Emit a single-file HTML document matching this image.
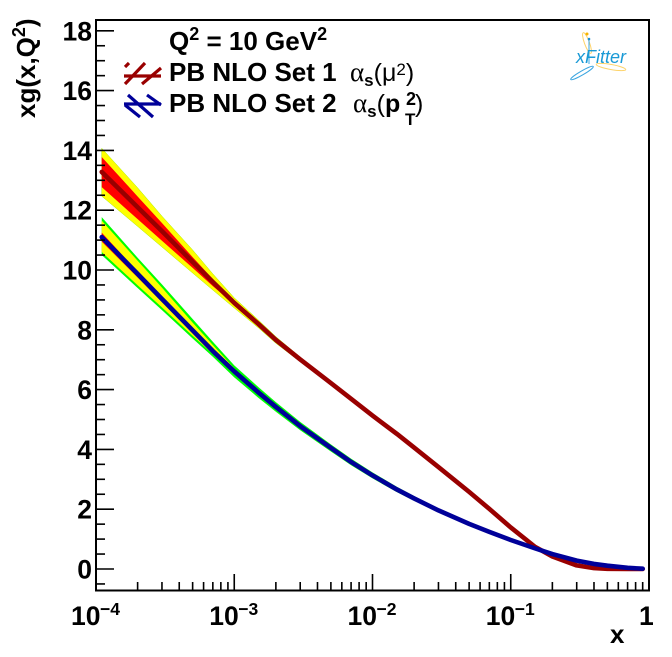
<!DOCTYPE html>
<html>
<head>
<meta charset="utf-8">
<style>
html,body{margin:0;padding:0;background:#fff;}
svg{display:block;font-family:"Liberation Sans",sans-serif;font-weight:bold;fill:#000;}
</style>
</head>
<body>
<svg id="chart" width="672" height="657" viewBox="0 0 672 657" xmlns="http://www.w3.org/2000/svg">
<rect width="672" height="657" fill="#fff"/>
<g id="bands"></g>
<g id="lines"></g>
<g id="axes"></g>
<text transform="translate(35,118) rotate(-90)" font-size="26">xg(x,Q<tspan font-size="18" dy="-10">2</tspan><tspan dy="10">)</tspan></text>
<text x="610" y="643" font-size="26">x</text>
<g>
<text x="169" y="50" font-size="26">Q<tspan font-size="18" dy="-10">2</tspan><tspan dy="10"> = 10 GeV</tspan><tspan font-size="18" dy="-10">2</tspan></text>
<g stroke="#990000" stroke-width="3.2" fill="none">
<line x1="124" y1="76" x2="161" y2="76"/><line x1="125" y1="84" x2="145" y2="63"/><line x1="142" y1="84" x2="161" y2="68"/><line x1="125" y1="67" x2="129" y2="63"/>
</g>
<text x="169" y="81" font-size="26">PB NLO Set 1</text>
<text x="350" y="81" font-size="25"><tspan font-family="Liberation Serif" font-weight="normal" font-size="27">α</tspan><tspan font-size="17" dy="5">s</tspan><tspan dy="-5" font-weight="normal">(μ</tspan><tspan font-size="17" font-weight="normal" dy="-6">2</tspan><tspan dy="6" font-weight="normal">)</tspan></text>
<g stroke="#000099" stroke-width="3.2" fill="none">
<line x1="124" y1="104" x2="161" y2="104"/><line x1="125" y1="105" x2="140" y2="117"/><line x1="128" y1="95" x2="153" y2="117"/><line x1="147" y1="95" x2="161" y2="105"/>
</g>
<text x="169" y="112" font-size="26">PB NLO Set 2</text>
<text x="353" y="112" font-size="25"><tspan font-family="Liberation Serif" font-weight="normal" font-size="27">α</tspan><tspan font-size="17" dy="5">s</tspan><tspan dy="-5" font-weight="normal">(</tspan><tspan>p</tspan></text>
<text x="406" y="105" font-size="18">2</text>
<text x="405" y="125" font-size="17">T</text>
<text x="415" y="112" font-size="25" font-weight="normal">)</text>
</g>
<g>
<ellipse cx="587" cy="43" rx="2.5" ry="11" transform="rotate(-20 587 43)" fill="none" stroke="#fdd36a" stroke-width="1"/>
<ellipse cx="611" cy="67" rx="15" ry="2.5" transform="rotate(10 611 67)" fill="none" stroke="#fdd36a" stroke-width="1"/>
<ellipse cx="582" cy="73" rx="13" ry="2" transform="rotate(-30 582 73)" fill="none" stroke="#3aa5e0" stroke-width="1"/>
<line x1="589" y1="38" x2="589" y2="64" stroke="#3aa5e0" stroke-width="1"/>
<circle cx="587" cy="34" r="1.5" fill="#f7b500"/>
<circle cx="589" cy="39" r="1.3" fill="#1a8fd6"/>
<text x="576" y="63" font-size="18" font-style="italic" font-weight="normal" fill="#1a9ad6">xFitter</text>
</g>
<rect id="frame" x="96" y="20" width="553" height="570.5" fill="none" stroke="#000" stroke-width="2"/>
</svg>
<script>
const xValues = [1.1e-4, 2e-4, 3e-4, 5e-4, 7e-4, 1e-3, 1.5e-3, 2e-3, 3e-3, 5e-3, 7e-3, 1e-2, 1.5e-2, 2e-2, 3e-2, 5e-2, 7e-2, 0.1, 0.15, 0.2, 0.3, 0.4, 0.5, 0.7, 0.9];
const set1Central = [13.28, 12.1, 11.3, 10.27, 9.6, 8.9, 8.19, 7.66, 7.01, 6.22, 5.69, 5.13, 4.52, 4.06, 3.41, 2.58, 2.01, 1.39, 0.74, 0.42, 0.12, 0.03, 0.007, 0, 0];
const set1TotalErrUp = [0.79, 0.65, 0.5, 0.4, 0.27, 0.17, 0.13, 0.11, 0.08, 0.04, 0.02, 0.01, 0.01, 0.01, 0.01, 0.01, 0.01, 0.01, 0, 0, 0, 0, 0, 0, 0];
const set1TotalErrDown = [0.81, 0.64, 0.53, 0.37, 0.27, 0.17, 0.13, 0.11, 0.08, 0.04, 0.02, 0.01, 0.01, 0.01, 0.01, 0.01, 0.01, 0.01, 0, 0, 0, 0, 0, 0, 0];
const set1InnerErrUp = [0.5, 0.36, 0.27, 0.16, 0.1, 0.05, 0.03, 0.02, 0.01, 0.01, 0, 0, 0, 0, 0, 0, 0, 0, 0, 0, 0, 0, 0, 0, 0];
const set1InnerErrDown = [0.51, 0.4, 0.32, 0.2, 0.14, 0.05, 0.03, 0.02, 0.01, 0.01, 0, 0, 0, 0, 0, 0, 0, 0, 0, 0, 0, 0, 0, 0, 0];
const set2Central = [11.1, 9.87, 9.03, 7.98, 7.29, 6.61, 5.9, 5.42, 4.78, 4.05, 3.58, 3.13, 2.66, 2.36, 1.96, 1.51, 1.24, 0.97, 0.69, 0.5, 0.28, 0.17, 0.11, 0.04, 0.01];
const set2TotalErrUp = [0.67, 0.54, 0.49, 0.38, 0.31, 0.2, 0.18, 0.16, 0.14, 0.12, 0.11, 0.1, 0.09, 0.08, 0.02, 0, 0, 0, 0, 0, 0, 0, 0, 0, 0];
const set2TotalErrDown = [0.6, 0.47, 0.37, 0.27, 0.19, 0.2, 0.18, 0.16, 0.14, 0.12, 0.11, 0.1, 0.09, 0.08, 0.02, 0, 0, 0, 0, 0, 0, 0, 0, 0, 0];
const set2InnerErrUp = [0.55, 0.44, 0.38, 0.26, 0.2, 0.1, 0, 0, 0, 0, 0, 0, 0, 0, 0, 0, 0, 0, 0, 0, 0, 0, 0, 0, 0];
const set2InnerErrDown = [0.5, 0.38, 0.28, 0.18, 0.1, 0.08, 0, 0, 0, 0, 0, 0, 0, 0, 0, 0, 0, 0, 0, 0, 0, 0, 0, 0, 0];
const set2CoreErrUp = [0.15, 0.08, 0.05, 0.03, 0, 0, 0, 0, 0, 0, 0, 0, 0, 0, 0, 0, 0, 0, 0, 0, 0, 0, 0, 0, 0];
const set2CoreErrDown = [0.15, 0.12, 0.1, 0.08, 0.03, 0, 0, 0, 0, 0, 0, 0, 0, 0, 0, 0, 0, 0, 0, 0, 0, 0, 0, 0, 0];
const yTickValues = [0, 2, 4, 6, 8, 10, 12, 14, 16, 18];
const xDecadeExponents = [-4, -3, -2, -1];
const xDecadeLabels = ["\u22124", "\u22123", "\u22122", "\u22121"];

const NS = "http://www.w3.org/2000/svg";
const sx = function (v) { return 96 + (Math.log10(v) + 4) * 138.25; };
const sy = function (v) { return 569 - v * 29.9; };

function make(tag, parent, attrs) {
  const el = document.createElementNS(NS, tag);
  Object.keys(attrs).forEach(function (k) { el.setAttribute(k, attrs[k]); });
  parent.appendChild(el);
  return el;
}
function bandPath(central, errUp, errDown) {
  let d = "";
  xValues.forEach(function (x, i) { d += (i ? "L" : "M") + sx(x).toFixed(2) + " " + sy(central[i] + errUp[i]).toFixed(2); });
  for (let i = xValues.length - 1; i >= 0; i--) { d += "L" + sx(xValues[i]).toFixed(2) + " " + sy(central[i] - errDown[i]).toFixed(2); }
  return d + "Z";
}
function linePath(vals) {
  let d = "";
  xValues.forEach(function (x, i) { d += (i ? "L" : "M") + sx(x).toFixed(2) + " " + sy(vals[i]).toFixed(2); });
  return d;
}
const bands = document.getElementById("bands");
const lines = document.getElementById("lines");
const axes = document.getElementById("axes");

const b1 = make("path", bands, { d: bandPath(set1Central, set1TotalErrUp, set1TotalErrDown), fill: "#ffff00", stroke: "#a0f000", "stroke-width": "0.5" });


const b2 = make("path", bands, { d: bandPath(set1Central, set1InnerErrUp, set1InnerErrDown), fill: "#ff0000" });


const b3 = make("path", bands, { d: bandPath(set2Central, set2TotalErrUp, set2TotalErrDown), fill: "#00ff00" });


const b4 = make("path", bands, { d: bandPath(set2Central, set2InnerErrUp, set2InnerErrDown), fill: "#ffff00" });


const b5 = make("path", bands, { d: bandPath(set2Central, set2CoreErrUp, set2CoreErrDown), fill: "#ff0000" });


const l1 = make("path", lines, { d: linePath(set1Central), fill: "none", stroke: "#990000", "stroke-width": "4.6", "stroke-linejoin": "round", "stroke-linecap": "round" });


const l2 = make("path", lines, { d: linePath(set2Central), fill: "none", stroke: "#000099", "stroke-width": "4.6", "stroke-linejoin": "round", "stroke-linecap": "round" });



/* y axis */
for (let v = -0.5; v <= 18; v += 0.5) {
  const major = Number.isInteger(v / 2);
  const t = make("line", axes, { x1: 96, x2: major ? 114 : 105, y1: sy(v), y2: sy(v), stroke: "#000", "stroke-width": "1.6" });
  
  
}
yTickValues.forEach(function (v) {
  const t = make("text", axes, { x: 92, y: sy(v) + 9.5, "font-size": "26.5", "text-anchor": "end" });
  
  
  t.textContent = String(v);
});
/* x axis */
for (let e = -4; e < 0; e++) {
  for (let m = 1; m <= 9; m++) {
    if (e === -4 && m === 1) continue;
    const px = sx(m * Math.pow(10, e));
    const t = make("line", axes, { x1: px, x2: px, y1: 590, y2: m === 1 ? 574 : 582, stroke: "#000", "stroke-width": "1.6" });
    
    
  }
}
xDecadeExponents.forEach(function (e, i) {
  const px = sx(Math.pow(10, e));
  const t = make("text", axes, { x: px - 25, y: 625, "font-size": "26.5" });
  
  
  t.textContent = "10";
  const s = make("text", axes, { x: px + 4, y: 615, "font-size": "17.5" });
  
  
  s.textContent = xDecadeLabels[i];
});
const one = make("text", axes, { x: 639, y: 625, "font-size": "26.5" });


one.textContent = "1";
</script>
</body>
</html>
